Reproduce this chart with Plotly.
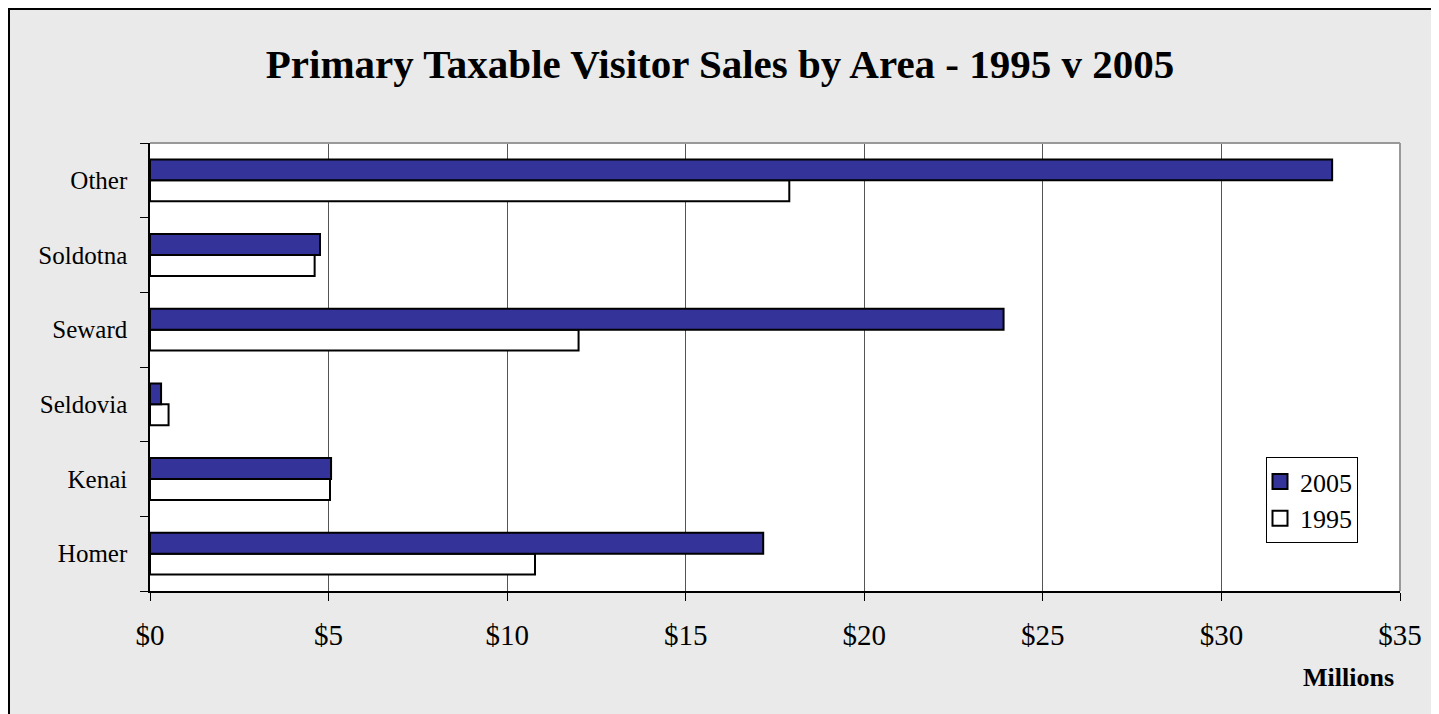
import plotly.graph_objects as go

areas = ["Homer", "Kenai", "Seldovia", "Seward", "Soldotna", "Other"]
sales_1995 = [10.78, 5.04, 0.52, 12.0, 4.61, 17.9]
sales_2005 = [17.17, 5.07, 0.31, 23.9, 4.76, 33.1]
x_ticks = [0, 5, 10, 15, 20, 25, 30, 35]
x_labels = [f"${v}" for v in x_ticks]

# the page puts the figure 8px in from the top-left corner
OFF = 8
W, H = 1429, 740
L, R, T, B = 142, 37, 135, 157
pw, ph = W - L - R, H - T - B


def px_x(px):
    # screen pixel -> paper x
    return (px - OFF - L) / pw


def px_y(py):
    # screen pixel -> paper y
    return (H - B - (py - OFF)) / ph


serif = "Liberation Serif, Times New Roman, serif"

fig = go.Figure()
fig.add_trace(go.Bar(
    y=areas, x=sales_1995, orientation="h", name="1995", showlegend=False,
    marker=dict(color="white", line=dict(color="black", width=2)),
))
fig.add_trace(go.Bar(
    y=areas, x=sales_2005, orientation="h", name="2005", showlegend=False,
    marker=dict(color="#333399", line=dict(color="black", width=2)),
))
# legend-only entries with larger square swatches
fig.add_trace(go.Scatter(
    x=[None], y=[None], mode="markers", name="1995",
    marker=dict(symbol="square", size=15, color="white",
                line=dict(color="black", width=2)),
))
fig.add_trace(go.Scatter(
    x=[None], y=[None], mode="markers", name="2005",
    marker=dict(symbol="square", size=15, color="#333399",
                line=dict(color="black", width=2)),
))

fig.update_layout(
    width=W, height=H,
    margin=dict(l=L, r=R, t=T, b=B),
    paper_bgcolor="#EAEAEA",
    plot_bgcolor="white",
    barmode="group",
    bargap=0.44,
    bargroupgap=0,
    font=dict(family=serif, color="black"),
    title=dict(
        text="<b>Primary Taxable Visitor Sales by Area - 1995 v 2005</b>",
        x=(720 - OFF) / W, xanchor="center", y=1 - (64 - OFF) / H, yanchor="middle",
        font=dict(size=41, family=serif, color="black"),
    ),
    xaxis=dict(
        range=[0, 35], tickvals=x_ticks, ticktext=x_labels,
        showgrid=True, gridcolor="#555555", gridwidth=1,
        showline=True, linecolor="black", linewidth=1.5,
        ticks="outside", ticklen=8, tickcolor="black",
        tickfont=dict(size=29), zeroline=False, ticklabelstandoff=9,
    ),
    yaxis=dict(
        categoryorder="array", categoryarray=areas,
        showgrid=False, showline=True, linecolor="black", linewidth=1.5,
        ticks="outside", ticklen=8, tickcolor="black", tickson="boundaries",
        tickfont=dict(size=25), ticklabelstandoff=16,
    ),
    legend=dict(
        x=px_x(1266), y=px_y(457), xanchor="left", yanchor="top",
        bgcolor="white", bordercolor="black", borderwidth=1,
        traceorder="reversed", font=dict(size=26),
        itemwidth=30, indentation=-7,
    ),
    showlegend=True,
    annotations=[dict(
        text="<b>Millions</b>", x=px_x(1348), y=px_y(677),
        xref="paper", yref="paper", showarrow=False,
        xanchor="center", yanchor="middle",
        font=dict(size=26, family=serif),
    )],
    shapes=[
        # plot frame top / right (gray)
        dict(type="line", xref="paper", yref="paper", x0=0, x1=1, y0=1, y1=1,
             line=dict(color="#999999", width=2)),
        dict(type="line", xref="paper", yref="paper", x0=1, x1=1, y0=0, y1=1,
             line=dict(color="#999999", width=2)),
        # chart border along the figure edge
        dict(type="rect", xref="paper", yref="paper",
             x0=px_x(OFF + 1), x1=px_x(OFF + W - 1), y0=px_y(OFF + H + 30), y1=px_y(OFF + 1),
             line=dict(color="black", width=2)),
    ],
)

fig.write_html("out.html")
